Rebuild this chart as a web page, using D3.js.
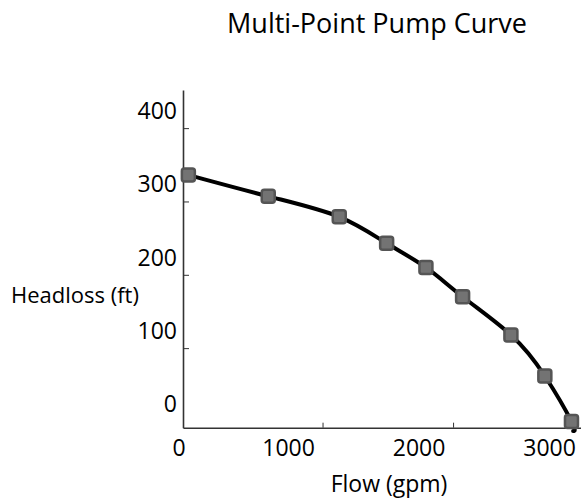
<!DOCTYPE html>
<html><head><meta charset="utf-8">
<script src="https://cdn.jsdelivr.net/npm/d3@7"></script>
<style>
html,body{margin:0;padding:0;background:#fff;}
svg text{font-family:"Open Sans", Lato, sans-serif;fill:#000;}
</style></head>
<body><svg id="c" width="581" height="499"></svg>
<script>
// Data
const flow = [-28, 584, 1128, 1491, 1792, 2073, 2443, 2703, 2907];
const head = [336, 307, 279, 243, 210, 170, 118, 62, 0];
// fitted curve runs slightly past the first and last points
const curveLeadFlow = [-60];
const curveLeadHead = [337];
const curveTailFlow = [2920];
const curveTailHead = [-13];
const xTicks = [0, 1000, 2000, 3000];
const yTicks = [0, 100, 200, 300, 400];
const title = "Multi-Point Pump Curve";
const xTitle = "Flow (gpm)";
const yTitle = "Headloss (ft)";

const svg = d3.select("#c");
const x = d3.scaleLinear().domain([-69, 2980]).range([183, 581]);
const y = d3.scaleLinear().domain([-8.5, 452]).range([427.7, 90]);

svg.append("defs").append("clipPath").attr("id", "plotClip")
  .append("rect").attr("x", x(-69) + 1).attr("y", 0).attr("width", 581).attr("height", 499);

// axes
const xAxis = d3.axisBottom(x).tickValues(xTicks.filter(d => d > 0)).tickSizeInner(-5).tickSizeOuter(0).tickFormat("");
const yAxis = d3.axisLeft(y).tickValues(yTicks.filter(d => d > 0)).tickSizeInner(-6).tickSizeOuter(0).tickFormat("");
const gx = svg.append("g").attr("transform", "translate(0,427.7)").call(xAxis);
const gy = svg.append("g").attr("transform", "translate(183,0)").call(yAxis);
[gx, gy].forEach(g => {
  g.select(".domain").attr("stroke", "#333").attr("stroke-width", 1.6);
  g.selectAll(".tick line").attr("stroke", "#333").attr("stroke-width", 1);
});

// tick labels (offset from tick marks as in the reference)
svg.append("g").selectAll("text").data(xTicks).join("text")
  .attr("x", d => Math.max(x(d) - 34, 179))
  .attr("y", 456)
  .attr("text-anchor", "middle")
  .attr("font-size", 23)
  .text(d => d);
svg.append("g").selectAll("text").data(yTicks).join("text")
  .attr("x", 177)
  .attr("y", d => y(d) - 9)
  .attr("text-anchor", "end")
  .attr("font-size", 23)
  .text(d => d);

// curve
const pts = flow.map((f, i) => [f, head[i]]);
const curvePts = curveLeadFlow.map((f, i) => [f, curveLeadHead[i]])
  .concat(pts)
  .concat(curveTailFlow.map((f, i) => [f, curveTailHead[i]]));
svg.append("path")
  .datum(curvePts)
  .attr("clip-path", "url(#plotClip)")
  .attr("fill", "none")
  .attr("stroke", "#000")
  .attr("stroke-width", 4)
  .attr("stroke-linecap", "round")
  .attr("d", d3.line().x(d => x(d[0])).y(d => y(d[1])).curve(d3.curveNatural));

// markers
svg.append("g").selectAll("rect").data(pts).join("rect")
  .attr("x", d => x(d[0]) - 6.5)
  .attr("y", d => y(d[1]) - 6.5)
  .attr("width", 13).attr("height", 13).attr("rx", 2.5)
  .attr("fill", "#737373")
  .attr("stroke", "#555")
  .attr("stroke-width", 2.5);

// titles
svg.append("text").attr("x", 377).attr("y", 33).attr("text-anchor", "middle")
  .attr("font-size", 27).text(title);
svg.append("text").attr("x", 389).attr("y", 492).attr("text-anchor", "middle")
  .attr("font-size", 23).text(xTitle);
svg.append("text").attr("x", 11).attr("y", 303).attr("text-anchor", "start")
  .attr("font-size", 22).text(yTitle);
</script></body></html>
